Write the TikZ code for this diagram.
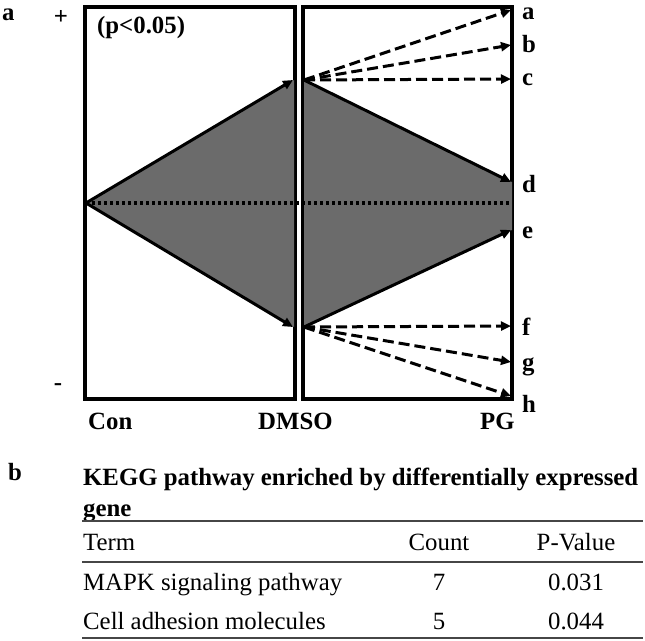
\documentclass[tikz,border=0pt]{standalone}
\usepackage{fontspec}
\setmainfont{Liberation Serif}
\usetikzlibrary{arrows.meta, positioning}

\definecolor{regiongray}{RGB}{107,107,107}
\definecolor{rulegray}{RGB}{70,70,70}

\begin{document}
\begin{tikzpicture}[x=1pt, y=-1pt,
  every node/.style={font=\fontsize{24.8}{29}\selectfont\bfseries, inner sep=0pt},
  panel/.style={line width=3.5pt},
  trend/.style={line width=3pt, -{Triangle[length=10pt,width=9pt]}},
  dashtrend/.style={trend, dash pattern=on 11pt off 5pt},
  midline/.style={line width=3.2pt, dash pattern=on 3.2pt off 2.8pt},
  tabtext/.style={font=\fontsize{24.8}{29}\selectfont},
  tabrule/.style={rulegray, line width=1.6pt}]

\useasboundingbox (0,0) rectangle (645,640);

% --- Panel a: the two boxes ---
\draw[panel] (85,7) rectangle (295,399);
\draw[panel] (303,7) rectangle (512,399);

% Anchor points
\coordinate (start) at (86,203);
\coordinate (upL)   at (293,80);
\coordinate (lowL)  at (293,327);
\coordinate (upR)   at (304,80);
\coordinate (lowR)  at (304,327);
\coordinate (midend) at (511,203);

% End points on the PG side
\foreach \n/\y in {a/10, b/45, c/79, d/182, e/230, f/326, g/362, h/396}
  \coordinate (t\n) at (511,\y);

% Shaded regions
\fill[regiongray] (start) -- (294,80) -- (294,327) -- cycle;
\fill[regiongray] (upR) -- (512,182) -- (512,230) -- (lowR) -- cycle;

% Dotted middle line
\draw[midline] (start) -- (midend);

% Solid trends
\draw[trend] (start) -- (upL);
\draw[trend] (start) -- (lowL);
\draw[trend] (upR) -- (td);
\draw[trend] (lowR) -- (te);

% Dashed trends
\foreach \n in {a,b,c}
  \draw[dashtrend] (upR) -- (t\n);
\foreach \n in {f,g,h}
  \draw[dashtrend] (lowR) -- (t\n);

% Letters a-h
\foreach \n/\y in {a/19, b/52, c/85, d/192, e/238, f/335, g/370, h/412}
  \node[anchor=base west] (lbl\n) at (522,\y) {\n};

% Side and group labels
\node[anchor=base west] (panelA) at (2,20) {a};
\node (plus) at (61,17) {+};
\node (minus) at (58,387) {-};
\node[anchor=base west] (pval) at (97,33) {(p<0.05)};
\node[anchor=base west] (con) at (88,429) {Con};
\node[anchor=base west] (dmso) at (258,429) {DMSO};
\node[anchor=base west] (pg) at (480,429) {PG};

% --- Panel b: KEGG table ---
\node[anchor=base west] (panelB) at (8,480) {b};
\node[anchor=base west] (title) at (83,485) {KEGG pathway enriched by differentially expressed};
\node[anchor=base west] (titletail) at (83,516) {gene};
\draw[tabrule] (82,521) -- (643,521);

\node[tabtext, anchor=base west] (hterm) at (83,550) {Term};
\node[tabtext, anchor=base] (hcount) at (439,550) {Count};
\node[tabtext, anchor=base] (hpval) at (576,550) {P-Value};
\draw[tabrule] (82,562) -- (643,562);

\foreach \term/\cnt/\pv/\y in {MAPK signaling pathway/7/0.031/590,
                               Cell adhesion molecules/5/0.044/629} {
  \node[tabtext, anchor=base west] at (83,\y) {\term};
  \node[tabtext, anchor=base] at (439,\y) {\cnt};
  \node[tabtext, anchor=base] at (576,\y) {\pv};
}
\draw[tabrule, line width=2.5pt] (82,638) -- (643,638);

\end{tikzpicture}
\end{document}
